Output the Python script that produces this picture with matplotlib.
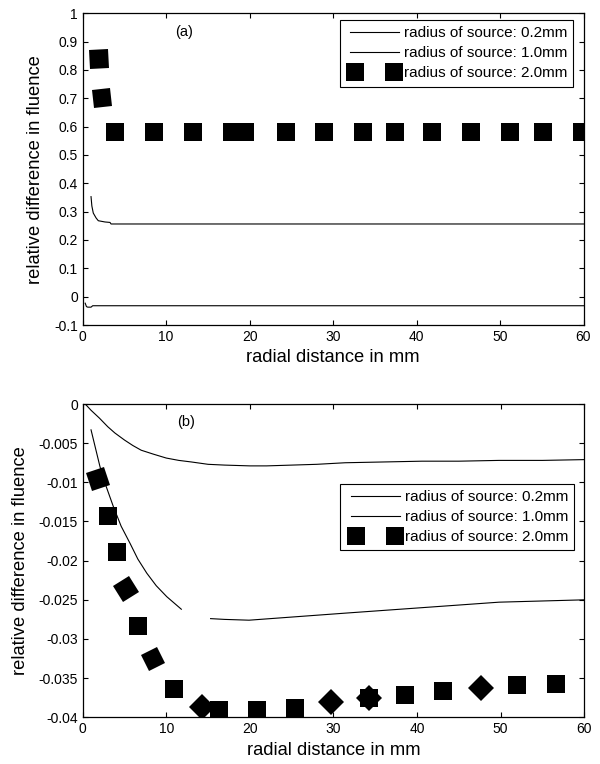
import matplotlib
matplotlib.use('Agg')
import matplotlib.pyplot as plt
from matplotlib.ticker import FuncFormatter, MultipleLocator
from matplotlib.markers import MarkerStyle
from matplotlib.transforms import Affine2D
from matplotlib.legend_handler import HandlerLine2D

plt.rcParams['font.family'] = ['Liberation Sans', 'DejaVu Sans']
plt.rcParams['axes.unicode_minus'] = False

LABELS = ['radius of source: 0.2mm', 'radius of source: 1.0mm', 'radius of source: 2.0mm']

# (a) relative difference, full range
xa_02 = [0.3, 0.45, 0.6, 1.0, 1.2, 60]
ya_02 = [-0.023, -0.035, -0.037, -0.037, -0.032, -0.032]
xa_10 = [1.0, 1.1, 1.27, 1.6, 1.87, 2.67, 3.27, 3.4, 60]
ya_10 = [0.353, 0.32, 0.295, 0.278, 0.268, 0.2636, 0.262, 0.2565, 0.2565]
xa_20 = [1.9, 2.3, 3.9, 8.5, 13.2, 17.9, 19.5, 24.3, 28.9, 33.6, 37.4, 41.8,
         46.5, 51.2, 55.1, 59.8]
ya_20 = [0.839, 0.701, 0.581, 0.581, 0.581, 0.581, 0.581, 0.581, 0.581, 0.581,
         0.581, 0.581, 0.581, 0.581, 0.581, 0.581]

# (b) zoom on the small differences
xb_02 = [0.3, 1, 2, 3, 3.85, 5, 6, 7, 8.45, 10, 11.5, 13, 15, 17, 20, 22, 25,
         28, 31.4, 36, 40.6, 45, 49.8, 55, 60]
yb_02 = [0.0, -0.0008, -0.0018, -0.0029, -0.0037, -0.0046, -0.0053, -0.0059,
         -0.0064, -0.0069, -0.0072, -0.0074, -0.0077, -0.0078, -0.0079, -0.0079,
         -0.0078, -0.0077, -0.0075, -0.0074, -0.0073, -0.0073, -0.0072, -0.0072,
         -0.0071]
xb_10a = [1.0, 1.5, 2.07, 2.8, 3.67, 4.6, 5.67, 6.6, 7.67, 8.8, 10.06, 11.8]
yb_10a = [-0.0033, -0.0055, -0.008, -0.0105, -0.0131, -0.0156, -0.0178, -0.0198,
          -0.0216, -0.0232, -0.0246, -0.0262]
xb_10b = [15.3, 17, 19.9, 25, 31.4, 40.6, 49.8, 60]
yb_10b = [-0.0274, -0.0275, -0.0276, -0.0272, -0.0267, -0.026, -0.0253, -0.025]
xb_20 = [1.8, 3.08, 4.1, 5.24, 6.6, 8.45, 10.9, 14.3, 16.3, 20.9, 25.4, 29.7,
         34.2, 38.6, 43.1, 47.6, 52.0, 56.6]
yb_20 = [-0.0096, -0.0143, -0.0189, -0.0236, -0.0283, -0.0326, -0.0364, -0.0387,
         -0.0391, -0.0391, -0.0388, -0.0381, -0.0375, -0.0371, -0.0366, -0.0362,
         -0.0359, -0.0357]

THIN = 0.8
SQ = 13.3  # square side in points

# square blocks that come out tilted (index -> angles in degrees)
TILT_A = {0: (4,), 1: (6,)}
TILT_B = {0: (20,), 3: (30,), 5: (28,), 7: (45,), 11: (45,), 12: (0, 45), 15: (45,)}

fig = plt.figure(figsize=(6, 7.64), dpi=100)
ax1 = fig.add_axes([0.1378, 0.5746, 0.8347, 0.408])
ax2 = fig.add_axes([0.1378, 0.0611, 0.8360, 0.4101])


def style_axes(ax):
    ax.tick_params(direction='in', length=3.6, width=0.8, top=True, right=True,
                   labelsize=10, pad=3.5)
    for s in ax.spines.values():
        s.set_linewidth(0.9)
    ax.yaxis.set_major_formatter(FuncFormatter(lambda v, p: '%g' % round(v, 6)))
    ax.xaxis.set_major_locator(MultipleLocator(10))
    ax.set_xlim(0, 60)
    ax.set_xlabel('radial distance in mm', fontsize=13.2, labelpad=4)
    ax.set_ylabel('relative difference in fluence', fontsize=13.2, labelpad=7)


def draw_blocks(ax, xs, ys, tilts, label):
    plain = [i for i in range(len(xs)) if i not in tilts]
    h, = ax.plot(xs, ys, ls='none', marker='s', ms=SQ, mew=0, color='black',
                 markevery=plain, label=label)
    for i, angles in tilts.items():
        for a in angles:
            m = MarkerStyle('s', transform=Affine2D().rotate_deg(a))
            ax.plot([xs[i]], [ys[i]], ls='none', marker=m, ms=SQ, mew=0,
                    color='black')
    return h


for ax in (ax1, ax2):
    style_axes(ax)

# panel (a)
ax1.set_ylim(-0.1, 1)
ax1.yaxis.set_major_locator(MultipleLocator(0.1))
ax1.plot(xa_02, ya_02, color='black', lw=THIN, label=LABELS[0])
ax1.plot(xa_10, ya_10, color='black', lw=THIN, label=LABELS[1])
sq1 = draw_blocks(ax1, xa_20, ya_20, TILT_A, LABELS[2])
ax1.text(12.1, 0.934, '(a)', fontsize=10.5, ha='center', va='center')

# panel (b)
ax2.set_ylim(-0.04, 0)
ax2.yaxis.set_major_locator(MultipleLocator(0.005))
ax2.plot(xb_02, yb_02, color='black', lw=THIN, label=LABELS[0])
ax2.plot(xb_10a, yb_10a, color='black', lw=THIN, label=LABELS[1])
ax2.plot(xb_10b, yb_10b, color='black', lw=THIN)
sq2 = draw_blocks(ax2, xb_20, yb_20, TILT_B, LABELS[2])
ax2.text(12.4, -0.00226, '(b)', fontsize=10.5, ha='center', va='center')

leg_kw = dict(loc='upper right', fontsize=11, handlelength=3.8, handletextpad=0.0,
              borderpad=0.41, labelspacing=0.39, borderaxespad=0, numpoints=2,
              fancybox=False, framealpha=1, edgecolor='black')
lg1 = ax1.legend(bbox_to_anchor=(0.98, 0.978),
                 handler_map={sq1: HandlerLine2D(marker_pad=0.63)}, **leg_kw)
lg2 = ax2.legend(bbox_to_anchor=(0.98, 0.745),
                 handler_map={sq2: HandlerLine2D(marker_pad=0.63)}, **leg_kw)
for lg in (lg1, lg2):
    lg.get_frame().set_linewidth(0.8)

fig.savefig('out.png', dpi=100, facecolor='white')
